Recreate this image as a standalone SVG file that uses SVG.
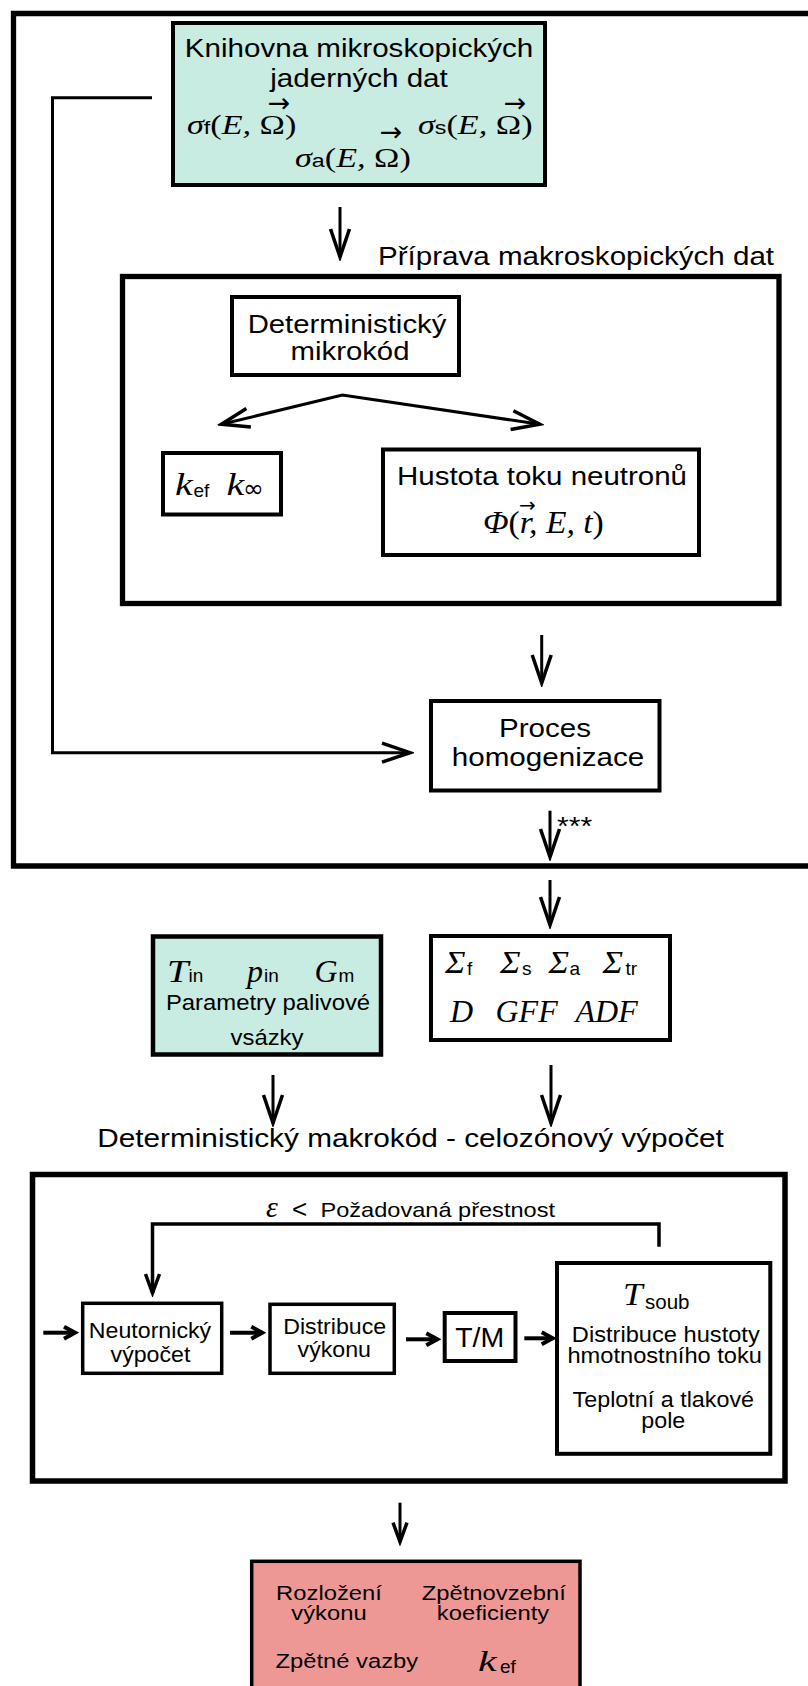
<svg xmlns="http://www.w3.org/2000/svg" width="808" height="1686" viewBox="0 0 808 1686">
  <style>
    .frame { fill: none; stroke: #000; stroke-width: 5.3; }
    .box { fill: #fff; stroke: #000; stroke-width: 4; }
    .teal { fill: #c8ebe2; }
    .red { fill: #ee9896; }
    .conn { fill: none; stroke: #000; stroke-width: 3; }
    .conn-b { fill: none; stroke: #000; stroke-width: 4; }
    .sans { font-family: "Liberation Sans", Arial, sans-serif; fill: #000; }
    .math { font-family: "Liberation Serif", "Times New Roman", serif; font-style: italic; fill: #000; }
    .up { font-style: normal; }
    .sub { font-family: "Liberation Sans", Arial, sans-serif; font-style: normal; font-size: 19px; fill: #000; }
    .vec { font-family: "DejaVu Sans", sans-serif; fill: #000; }
    .lg { font-size: 25.5px; }
    .md { font-size: 22.5px; }
    .sm { font-size: 19.5px; }
  </style>
  <defs>
    <marker id="chev" markerUnits="userSpaceOnUse" viewBox="-32 -14 36 28" refX="0" refY="0" markerWidth="36" markerHeight="28" orient="auto-start-reverse">
      <path d="M-28,-9.5 L0,0 L-28,9.5" fill="none" stroke="#000" stroke-width="3.5" stroke-linejoin="miter"/>
    </marker>
    <marker id="mid" markerUnits="userSpaceOnUse" viewBox="-24 -12 28 24" refX="0" refY="0" markerWidth="28" markerHeight="24" orient="auto">
      <path d="M-19,-7 L0,0 L-19,7" fill="none" stroke="#000" stroke-width="3.5"/>
    </marker>
    <marker id="small" markerUnits="userSpaceOnUse" viewBox="-16 -10 20 20" refX="0" refY="0" markerWidth="20" markerHeight="20" orient="auto">
      <path d="M-11,-6 L0,0 L-11,6" fill="none" stroke="#000" stroke-width="4"/>
    </marker>
  </defs>

  <!-- containers -->
  <g id="frame-macro-prep">
    <path class="frame" d="M 812 13.5 H 13.5 V 866 H 812"/>
  </g>
  <g id="frame-macro-data">
    <rect class="frame" x="122.5" y="276.5" width="656.5" height="327"/>
    <text class="sans lg" text-anchor="middle" transform="translate(576,265) scale(1.16,1)">Příprava makroskopických dat</text>
  </g>
  <g id="frame-core-calc">
    <rect class="frame" x="32.5" y="1174.5" width="752.5" height="306.5" style="stroke-width:5.5"/>
    <text class="sans lg" text-anchor="middle" transform="translate(410.5,1146.7) scale(1.167,1)">Deterministický makrokód - celozónový výpočet</text>
  </g>

  <!-- connectors -->
  <g id="connectors">
    <path class="conn" d="M 152 97.7 H 52.5 V 752.7 H 410" marker-end="url(#chev)"/>
    <path class="conn" d="M 340 207 V 257" marker-end="url(#chev)"/>
    <path class="conn" d="M 221.4 424.3 L 342.4 395 L 539.7 424.3" marker-start="url(#chev)" marker-end="url(#chev)"/>
    <path class="conn" d="M 541.7 635 V 683" marker-end="url(#chev)"/>
    <path class="conn" d="M 550 810.7 V 857" marker-end="url(#chev)"/>
    <text class="sans" font-size="26" transform="translate(557,835) scale(1.16,1)">***</text>
    <path class="conn" d="M 550 880 V 925" marker-end="url(#chev)"/>
    <path class="conn" d="M 551 1065 V 1123" marker-end="url(#chev)"/>
    <path class="conn" d="M 273 1075 V 1123" marker-end="url(#chev)"/>
    <path class="conn" d="M 659 1246.7 V 1224 H 152.5 V 1293" style="stroke-width:3.5" marker-end="url(#mid)"/>
    <text class="math" x="266" y="1216.7" font-size="30">ε</text>
    <text class="sans" x="292" y="1218" font-size="26">&lt;</text>
    <text class="sans" font-size="20.5" transform="translate(320.5,1216.7) scale(1.15,1)">Požadovaná přestnost</text>
    <path class="conn-b" d="M 43.3 1332.7 H 75" marker-end="url(#small)"/>
    <path class="conn-b" d="M 230 1332.7 H 262.3" marker-end="url(#small)"/>
    <path class="conn-b" d="M 406 1339.3 H 437.3" marker-end="url(#small)"/>
    <path class="conn-b" d="M 524.3 1338.3 H 552.7" marker-end="url(#small)"/>
    <path class="conn" d="M 400 1502.7 V 1541.7" marker-end="url(#mid)"/>
  </g>

  <!-- nuclear data library -->
  <g id="node-library">
    <rect class="box teal" x="173" y="23" width="372" height="162"/>
    <text class="sans lg" text-anchor="middle" transform="translate(359,57) scale(1.16,1)">Knihovna mikroskopických</text>
    <text class="sans lg" text-anchor="middle" transform="translate(359,87) scale(1.16,1)">jaderných dat</text>
    <text class="math" font-size="28" transform="translate(187,134) scale(1.22,1)">σ<tspan class="sub">f</tspan><tspan class="up">(</tspan>E, <tspan class="up">Ω)</tspan></text>
    <text class="math" font-size="28" transform="translate(418,134) scale(1.22,1)">σ<tspan class="sub">s</tspan><tspan class="up">(</tspan>E, <tspan class="up">Ω)</tspan></text>
    <text class="math" font-size="28" transform="translate(295,167) scale(1.22,1)">σ<tspan class="sub">a</tspan><tspan class="up">(</tspan>E, <tspan class="up">Ω)</tspan></text>
    <text class="vec" font-size="27" text-anchor="middle" x="279" y="111.5">→</text>
    <text class="vec" font-size="27" text-anchor="middle" x="391" y="140.5">→</text>
    <text class="vec" font-size="27" text-anchor="middle" x="515" y="111.5">→</text>
  </g>

  <!-- deterministic microcode -->
  <g id="node-microcode">
    <rect class="box" x="232" y="297" width="227" height="78"/>
    <text class="sans lg" text-anchor="middle" transform="translate(347,332.7) scale(1.15,1)">Deterministický</text>
    <text class="sans lg" text-anchor="middle" transform="translate(350,360) scale(1.15,1)">mikrokód</text>
  </g>

  <g id="node-k">
    <rect class="box" x="163" y="453" width="118" height="61.5"/>
    <text class="math" font-size="32" transform="translate(175,495) scale(1.25,1)">k</text>
    <text class="sub" x="193.5" y="497">ef</text>
    <text class="math" font-size="32" transform="translate(226.5,495) scale(1.25,1)">k</text>
    <text class="vec" x="243" y="497" font-size="25">∞</text>
  </g>

  <g id="node-flux">
    <rect class="box" x="383" y="449.5" width="316" height="105.5"/>
    <text class="sans lg" text-anchor="middle" transform="translate(542,485) scale(1.156,1)">Hustota toku neutronů</text>
    <text class="math" font-size="32" transform="translate(483,533.3) scale(1.05,1)">Φ<tspan class="up">(</tspan>r, E, t<tspan class="up">)</tspan></text>
    <text class="vec" font-size="20" text-anchor="middle" x="527.5" y="511.5">→</text>
  </g>

  <g id="node-homogenization">
    <rect class="box" x="431" y="701" width="228.5" height="89.5"/>
    <text class="sans lg" text-anchor="middle" transform="translate(545,736.7) scale(1.16,1)">Proces</text>
    <text class="sans lg" text-anchor="middle" transform="translate(548,765.7) scale(1.16,1)">homogenizace</text>
  </g>

  <g id="node-loading">
    <rect class="box teal" x="153" y="936.5" width="228" height="118" style="stroke-width:4.5"/>
    <text class="math" font-size="32" transform="translate(167,981.7) scale(1.2,1)">T</text>
    <text class="sub" x="188.5" y="981.7">in</text>
    <text class="math" x="247" y="981.7" font-size="32">p</text>
    <text class="sub" x="264" y="981.7">in</text>
    <text class="math" x="314.5" y="981.7" font-size="32">G</text>
    <text class="sub" x="338.5" y="981.7">m</text>
    <text class="sans" font-size="21.5" text-anchor="middle" transform="translate(268,1010) scale(1.11,1)">Parametry palivové</text>
    <text class="sans" font-size="21.5" text-anchor="middle" transform="translate(267,1045) scale(1.11,1)">vsázky</text>
  </g>

  <g id="node-constants">
    <rect class="box" x="431" y="936" width="239" height="104"/>
    <text class="math" font-size="32" transform="translate(445,973) scale(1.08,1)">Σ</text>
    <text class="sub" x="467" y="975">f</text>
    <text class="math" font-size="32" transform="translate(500,973) scale(1.08,1)">Σ</text>
    <text class="sub" x="522" y="975">s</text>
    <text class="math" font-size="32" transform="translate(548.5,973) scale(1.08,1)">Σ</text>
    <text class="sub" x="569.5" y="975">a</text>
    <text class="math" font-size="32" transform="translate(602.5,973) scale(1.08,1)">Σ</text>
    <text class="sub" x="625.5" y="975">tr</text>
    <text class="math" x="450" y="1021.7" font-size="32">D</text>
    <text class="math" x="495.5" y="1021.7" font-size="32">GFF</text>
    <text class="math" x="575.5" y="1021.7" font-size="32">ADF</text>
  </g>

  <g id="node-neutronics">
    <rect class="box" x="82.7" y="1303.3" width="139" height="70" style="stroke-width:3.5"/>
    <text class="sans md" text-anchor="middle" transform="translate(150,1338.3) scale(1.03,1)">Neutornický</text>
    <text class="sans md" text-anchor="middle" transform="translate(150.5,1361.7) scale(1.03,1)">výpočet</text>
  </g>

  <g id="node-power">
    <rect class="box" x="270" y="1304.3" width="124.3" height="69" style="stroke-width:3.5"/>
    <text class="sans md" text-anchor="middle" transform="translate(334.7,1334) scale(1.03,1)">Distribuce</text>
    <text class="sans md" text-anchor="middle" transform="translate(334.3,1357.3) scale(1.03,1)">výkonu</text>
  </g>

  <g id="node-tm">
    <rect class="box" x="444.7" y="1313" width="70.8" height="48"/>
    <text class="sans" font-size="28.5" text-anchor="middle" x="479.7" y="1347.3">T/M</text>
  </g>

  <g id="node-fields">
    <rect class="box" x="557" y="1263" width="213.3" height="190.8"/>
    <text class="math" font-size="32" transform="translate(623,1305) scale(1.1,1)">T</text>
    <text class="sans" x="645" y="1309.3" font-size="20.5">soub</text>
    <text class="sans" font-size="22" text-anchor="middle" transform="translate(665.8,1341.7) scale(1.075,1)">Distribuce hustoty</text>
    <text class="sans" font-size="22" text-anchor="middle" transform="translate(664.7,1363.3) scale(1.075,1)">hmotnostního toku</text>
    <text class="sans" font-size="22" text-anchor="middle" transform="translate(663.3,1406.7) scale(1.06,1)">Teplotní a tlakové</text>
    <text class="sans" font-size="22" text-anchor="middle" transform="translate(663.3,1428.3) scale(1.06,1)">pole</text>
  </g>

  <g id="node-results">
    <rect class="box red" x="251.7" y="1561.3" width="328.3" height="200" style="stroke-width:3.5"/>
    <text class="sans sm" text-anchor="middle" transform="translate(329,1600) scale(1.22,1)">Rozložení</text>
    <text class="sans sm" text-anchor="middle" transform="translate(329,1620) scale(1.22,1)">výkonu</text>
    <text class="sans sm" text-anchor="middle" transform="translate(493.8,1600) scale(1.22,1)">Zpětnovzební</text>
    <text class="sans sm" text-anchor="middle" transform="translate(493,1620) scale(1.22,1)">koeficienty</text>
    <text class="sans sm" text-anchor="middle" transform="translate(346.8,1668.3) scale(1.22,1)">Zpětné vazby</text>
    <text class="math" font-size="30" transform="translate(478,1670.7) scale(1.4,1)">k</text>
    <text class="sub" x="500" y="1673.3">ef</text>
  </g>
</svg>
